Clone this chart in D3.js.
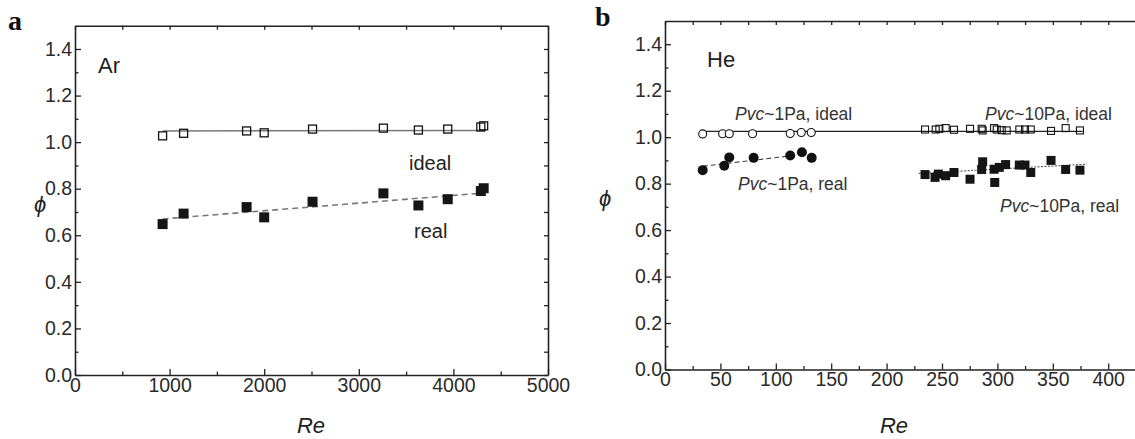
<!DOCTYPE html>
<html>
<head>
<meta charset="utf-8">
<script src="https://cdn.jsdelivr.net/npm/d3@7"></script>
<style>
  body { margin: 0; background: #fff; }
  svg { display: block; }
  text { font-family: "Liberation Sans", Arial, sans-serif; fill: #222; }
  .panelTag { font-family: "Liberation Serif", "Times New Roman", serif; font-weight: bold; font-size: 28px; fill: #111; }
  .ann { font-size: 17.5px; fill: #333; }
</style>
</head>
<body>
<svg id="chart" width="1135" height="439"></svg>
<script>
// ---- panel a : Ar ----
const arRe        = [926, 1148, 1814, 2000, 2511, 3260, 3630, 3940, 4290, 4320];
const arPhiIdeal  = [1.027, 1.038, 1.048, 1.040, 1.056, 1.060, 1.052, 1.056, 1.065, 1.070];
const arPhiReal   = [0.648, 0.693, 0.721, 0.677, 0.744, 0.780, 0.728, 0.755, 0.790, 0.802];
const arFitIdeal  = [[926, 1.048], [4330, 1.050]];
const arFitReal   = [[926, 0.670], [4330, 0.782]];
const arXTicks    = [0, 1000, 2000, 3000, 4000, 5000];

// ---- panel b : He ----
const he1Re       = [34, 52, 58, 79, 113, 123, 132];
const he1PhiIdeal = [1.014, 1.015, 1.015, 1.015, 1.016, 1.020, 1.020];
const he1ReReal   = [34, 53.5, 58, 80, 113, 123.6, 132.4];
const he1PhiReal  = [0.858, 0.877, 0.913, 0.911, 0.921, 0.935, 0.911];
const he10ReIdeal = [234.7, 244.3, 247.6, 253.3, 260.8, 275.3, 285.8, 286.7, 297, 299.4, 303.9, 308.4, 319.8, 324.9, 330.1, 348.4, 361.6, 374.5];
const he10PhiIdeal= [1.033, 1.033, 1.036, 1.039, 1.032, 1.036, 1.036, 1.029, 1.039, 1.033, 1.030, 1.029, 1.033, 1.033, 1.033, 1.027, 1.039, 1.029];
const he10ReReal  = [234.7, 243.7, 246.7, 253.3, 260.8, 275.3, 286.7, 285.8, 297.6, 297, 301.7, 307.4, 319.8, 324.9, 330.1, 348.4, 361.6, 374.5];
const he10PhiReal = [0.839, 0.827, 0.841, 0.834, 0.848, 0.819, 0.894, 0.861, 0.805, 0.862, 0.870, 0.882, 0.880, 0.880, 0.848, 0.900, 0.861, 0.858];
const heFitIdeal  = [[34, 1.025], [377, 1.025]];
const heFit1Real  = [[34, 0.875], [118, 0.922]];
const heFit10Real = [[229, 0.844], [381, 0.884]];
const heXTicks    = [0, 50, 100, 150, 200, 250, 300, 350, 400];

const yTicks = [0, 0.2, 0.4, 0.6, 0.8, 1.0, 1.2, 1.4];
const yMinor = [0.1, 0.3, 0.5, 0.7, 0.9, 1.1, 1.3];

const svg = d3.select('#chart');

function makeAxes(g, x, y, xMajor, xMinor, top, bottom, left, right) {
    // bottom
    g.append('g').attr('transform', 'translate(0,' + bottom + ')')
        .call(d3.axisBottom(x).tickValues(xMajor).tickSizeInner(-6).tickSizeOuter(0).tickPadding(3).tickFormat(d3.format('d')));
    g.append('g').attr('transform', 'translate(0,' + bottom + ')')
        .call(d3.axisBottom(x).tickValues(xMinor).tickSizeInner(-3.5).tickSizeOuter(0).tickFormat(''))
        .select('.domain').remove();
    // top
    g.append('g').attr('transform', 'translate(0,' + top + ')')
        .call(d3.axisTop(x).tickValues(xMajor.concat(xMinor)).tickSizeInner(-4).tickSizeOuter(0).tickFormat(''));
    // left
    g.append('g').attr('transform', 'translate(' + left + ',0)')
        .call(d3.axisLeft(y).tickValues(yTicks).tickSizeInner(-6).tickSizeOuter(0).tickPadding(3).tickFormat(d3.format('.1f')));
    g.append('g').attr('transform', 'translate(' + left + ',0)')
        .call(d3.axisLeft(y).tickValues(yMinor).tickSizeInner(-3.5).tickSizeOuter(0).tickFormat(''))
        .select('.domain').remove();
    if (right !== null) {
        g.append('g').attr('transform', 'translate(' + right + ',0)')
            .call(d3.axisRight(y).tickValues(yTicks.concat(yMinor)).tickSizeInner(-4).tickSizeOuter(0).tickFormat(''));
    }
    g.selectAll('.domain').attr('stroke', '#222').attr('stroke-width', 1.6);
    g.selectAll('.tick line').attr('stroke', '#222').attr('stroke-width', 1.3);
    g.selectAll('.tick text')
        .style('font-size', '19.5px')
        .style('font-family', '"Liberation Sans", Arial, sans-serif')
        .style('fill', '#2a2a2a');
}

const line = (x, y) => d3.line().x(d => x(d[0])).y(d => y(d[1]));

// ================= panel a =================
const ga = svg.append('g');
const xa = d3.scaleLinear().domain([0, 5000]).range([75, 548]);
const ya = d3.scaleLinear().domain([0, 1.5]).range([375, 25.7]);
makeAxes(ga, xa, ya, arXTicks, [500, 1500, 2500, 3500, 4500], 25.7, 375, 75, 548);

ga.append('path').datum(arFitIdeal).attr('d', line(xa, ya))
    .attr('fill', 'none').attr('stroke', '#777').attr('stroke-width', 1.6);
ga.append('path').datum(arFitReal).attr('d', line(xa, ya))
    .attr('fill', 'none').attr('stroke', '#777').attr('stroke-width', 1.6).attr('stroke-dasharray', '6,4');

ga.selectAll('.sqOpen').data(arRe.map((r, i) => [r, arPhiIdeal[i]])).enter().append('rect')
    .attr('x', d => xa(d[0]) - 4).attr('y', d => ya(d[1]) - 4)
    .attr('width', 8).attr('height', 8)
    .attr('fill', 'none').attr('stroke', '#111').attr('stroke-width', 1.3);
ga.selectAll('.sqFill').data(arRe.map((r, i) => [r, arPhiReal[i]])).enter().append('rect')
    .attr('x', d => xa(d[0]) - 5).attr('y', d => ya(d[1]) - 5)
    .attr('width', 10).attr('height', 10).attr('fill', '#151515');

ga.append('text').attr('x', 98).attr('y', 73).attr('font-size', 22).text('Ar');
ga.append('text').attr('x', 409).attr('y', 170).attr('font-size', 20).text('ideal');
ga.append('text').attr('x', 414).attr('y', 238).attr('font-size', 20).text('real');
ga.append('text').attr('x', 40).attr('y', 212).attr('font-size', 22).attr('font-style', 'italic')
    .attr('text-anchor', 'middle').text('\u03d5');
ga.append('text').attr('x', 311).attr('y', 433).attr('font-size', 22).attr('font-style', 'italic')
    .attr('text-anchor', 'middle').text('Re');
ga.append('text').attr('class', 'panelTag').attr('x', 8).attr('y', 30).text('a');

// ================= panel b =================
const gb = svg.append('g');
const xb = d3.scaleLinear().domain([0, 450]).range([665, 665 + 450 * 1.108]);
const yb = d3.scaleLinear().domain([0, 1.5]).range([369.5, 21]);
const heMinor = [25, 75, 125, 175, 225, 275, 325, 375, 425];
makeAxes(gb, xb, yb, heXTicks, heMinor, 21, 369.5, 665, null);

gb.append('path').datum(heFitIdeal).attr('d', line(xb, yb))
    .attr('fill', 'none').attr('stroke', '#222').attr('stroke-width', 1.1);
gb.append('path').datum(heFit1Real).attr('d', line(xb, yb))
    .attr('fill', 'none').attr('stroke', '#444').attr('stroke-width', 1.1).attr('stroke-dasharray', '5,3');
gb.append('path').datum(heFit10Real).attr('d', line(xb, yb))
    .attr('fill', 'none').attr('stroke', '#555').attr('stroke-width', 1.1).attr('stroke-dasharray', '2,1.5');

gb.selectAll('.cOpen').data(he1Re.map((r, i) => [r, he1PhiIdeal[i]])).enter().append('circle')
    .attr('cx', d => xb(d[0])).attr('cy', d => yb(d[1])).attr('r', 4)
    .attr('fill', '#fff').attr('stroke', '#111').attr('stroke-width', 1.1);
gb.selectAll('.cFill').data(he1ReReal.map((r, i) => [r, he1PhiReal[i]])).enter().append('circle')
    .attr('cx', d => xb(d[0])).attr('cy', d => yb(d[1])).attr('r', 5).attr('fill', '#111');
gb.selectAll('.sOpen').data(he10ReIdeal.map((r, i) => [r, he10PhiIdeal[i]])).enter().append('rect')
    .attr('x', d => xb(d[0]) - 3.5).attr('y', d => yb(d[1]) - 3.5)
    .attr('width', 7).attr('height', 7)
    .attr('fill', 'none').attr('stroke', '#111').attr('stroke-width', 1.1);
gb.selectAll('.sFill').data(he10ReReal.map((r, i) => [r, he10PhiReal[i]])).enter().append('rect')
    .attr('x', d => xb(d[0]) - 4.5).attr('y', d => yb(d[1]) - 4.5)
    .attr('width', 9).attr('height', 9).attr('fill', '#151515');

function pvcLabel(x, y, rest) {
    const t = gb.append('text').attr('class', 'ann').attr('x', x).attr('y', y);
    t.append('tspan').attr('font-style', 'italic').text('Pvc');
    t.append('tspan').text(rest);
}
pvcLabel(735, 120, '~1Pa, ideal');
pvcLabel(985, 120, '~10Pa, ideal');
pvcLabel(738, 190, '~1Pa, real');
pvcLabel(1000, 212, '~10Pa, real');

gb.append('text').attr('x', 707).attr('y', 67).attr('font-size', 22).text('He');
gb.append('text').attr('x', 605).attr('y', 206).attr('font-size', 22).attr('font-style', 'italic')
    .attr('text-anchor', 'middle').text('\u03d5');
gb.append('text').attr('x', 894).attr('y', 433).attr('font-size', 22).attr('font-style', 'italic')
    .attr('text-anchor', 'middle').text('Re');
gb.append('text').attr('class', 'panelTag').attr('x', 595).attr('y', 26).text('b');
</script>
</body>
</html>
